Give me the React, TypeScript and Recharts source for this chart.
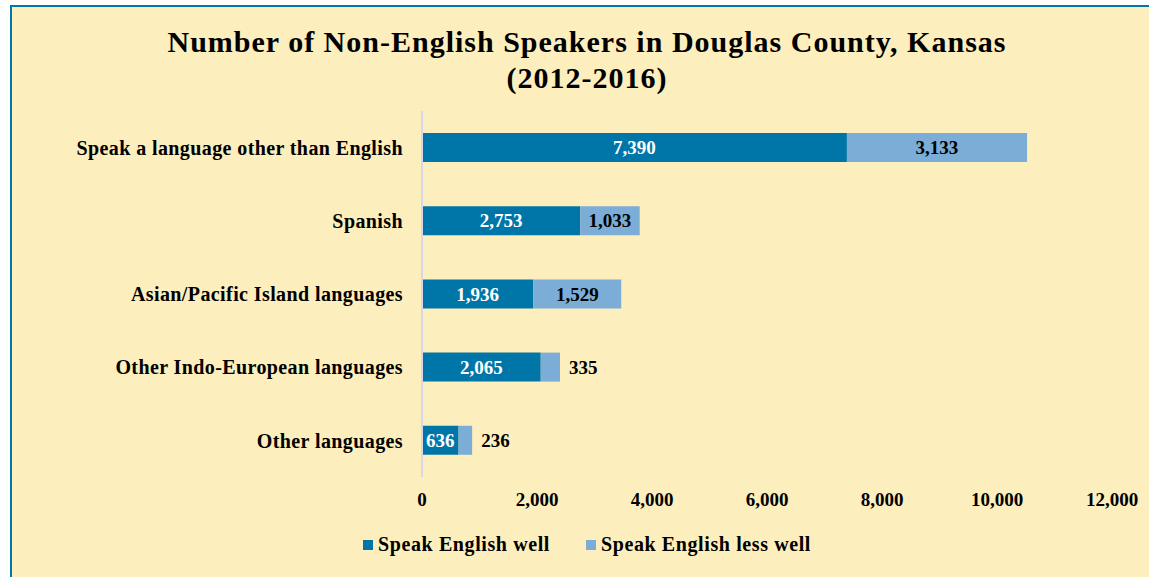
import { BarChart, Bar, XAxis, YAxis, Legend, LabelList } from 'recharts';

const categories = [
  'Speak a language other than English',
  'Spanish',
  'Asian/Pacific Island languages',
  'Other Indo-European languages',
  'Other languages',
];
const speakWell = [7390, 2753, 1936, 2065, 636];
const speakLessWell = [3133, 1033, 1529, 335, 236];
const xTicks = [0, 2000, 4000, 6000, 8000, 10000, 12000];

const COLORS = {
  well: '#0076A8',
  lessWell: '#7BADD6',
  bg: '#FCEEBD',
  border: '#0077AA',
};

const FONT = '"Liberation Serif", "DejaVu Serif", serif';

const data = categories.map((name, i) => ({
  name,
  well: speakWell[i],
  lessWell: speakLessWell[i],
}));

const fmt = (v: number) => v.toLocaleString('en-US');

const wellLabel = (props: any) => {
  const { x, y, width, height, value } = props;
  return (
    <text
      x={x + width / 2}
      y={y + height / 2}
      dy="0.35em"
      textAnchor="middle"
      fill="#fff"
      fontFamily={FONT}
      fontWeight="bold"
      fontSize={19}
    >
      {fmt(value)}
    </text>
  );
};

const lessLabel = (props: any) => {
  const { x, y, width, height, value } = props;
  // small segments get their label outside the bar
  const outside = width < 40;
  return (
    <text
      x={outside ? x + width + 9 : x + width / 2}
      y={y + height / 2}
      dy="0.35em"
      textAnchor={outside ? 'start' : 'middle'}
      fill="#000"
      fontFamily={FONT}
      fontWeight="bold"
      fontSize={19}
    >
      {fmt(value)}
    </text>
  );
};

const renderLegend = () => (
  <div
    style={{
      display: 'flex',
      justifyContent: 'center',
      gap: 36,
      fontFamily: FONT,
      fontWeight: 'bold',
      fontSize: 20,
      letterSpacing: 0.6,
    }}
  >
    {[
      { label: 'Speak English well', color: COLORS.well },
      { label: 'Speak English less well', color: COLORS.lessWell },
    ].map((it) => (
      <div key={it.label} style={{ display: 'flex', alignItems: 'center' }}>
        <span style={{ display: 'inline-block', width: 10, height: 10, background: it.color, marginRight: 5 }} />
        <span>{it.label}</span>
      </div>
    ))}
  </div>
);

export default function App() {
  return (
    <div style={{ position: 'fixed', left: 0, top: 0, width: 1149, height: 577, overflow: 'hidden', background: '#fff' }}>
      <div
        style={{
          position: 'absolute',
          left: 10,
          top: 5,
          width: 1160,
          height: 600,
          background: COLORS.bg,
          border: `2px solid ${COLORS.border}`,
        }}
      />
      <div
        style={{
          position: 'absolute',
          left: 10,
          top: 24,
          width: 1154,
          textAlign: 'center',
          fontFamily: FONT,
          fontWeight: 'bold',
          fontSize: 30,
          letterSpacing: 1,
          lineHeight: '36px',
          color: '#000',
        }}
      >
        Number of Non-English Speakers in Douglas County, Kansas
        <br />
        (2012-2016)
      </div>
      <div style={{ position: 'absolute', left: 0, top: 0 }}>
        <BarChart
          width={1149}
          height={577}
          data={data}
          layout="vertical"
          margin={{ top: 111, right: 37, bottom: 60, left: 12 }}
          barCategoryGap="30%"
        >
          <XAxis
            type="number"
            domain={[0, 12000]}
            ticks={xTicks}
            tickFormatter={fmt}
            axisLine={false}
            tickLine={false}
            tickMargin={10}
            height={40}
            tick={{ fill: '#000', fontFamily: FONT, fontWeight: 'bold', fontSize: 19 }}
          />
          <YAxis
            type="category"
            dataKey="name"
            width={410}
            tickLine={false}
            tickMargin={13}
            axisLine={{ stroke: '#D8D8E4', strokeWidth: 2 }}
            tick={{ fill: '#000', fontFamily: FONT, fontWeight: 'bold', fontSize: 20, letterSpacing: 0.4 }}
          />
          <Legend
            layout="horizontal"
            verticalAlign="middle"
            align="center"
            content={renderLegend}
            wrapperStyle={{ top: 533, left: 0, width: 1174 }}
          />
          <Bar dataKey="well" stackId="a" fill={COLORS.well} barSize={29} isAnimationActive={false}>
            <LabelList dataKey="well" content={wellLabel} />
          </Bar>
          <Bar dataKey="lessWell" stackId="a" fill={COLORS.lessWell} barSize={29} isAnimationActive={false}>
            <LabelList dataKey="lessWell" content={lessLabel} />
          </Bar>
        </BarChart>
      </div>
    </div>
  );
}
